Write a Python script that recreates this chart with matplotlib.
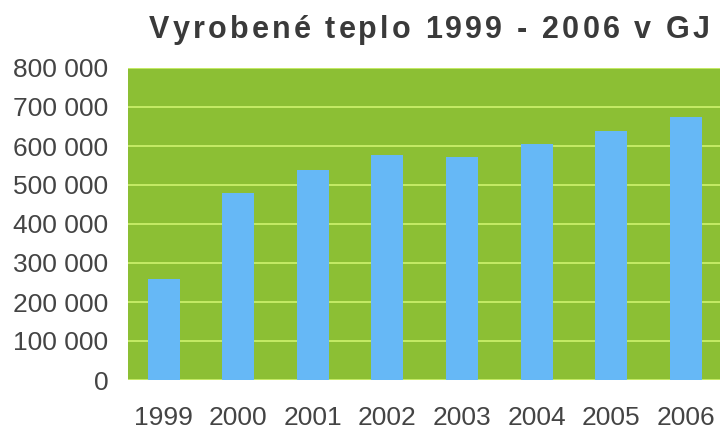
import numpy as np
import matplotlib.pyplot as plt
from matplotlib.ticker import FuncFormatter

years = ['1999', '2000', '2001', '2002', '2003', '2004', '2005', '2006']
heat_gj = [259000, 479000, 538000, 577000, 572000, 605000, 638000, 674000]
title = 'Vyrobené teplo 1999 - 2006 v GJ'

plt.rcParams['font.family'] = ['Liberation Sans', 'DejaVu Sans']

fig = plt.figure(figsize=(7.2, 4.3), dpi=100)
ax = fig.add_axes([128 / 720, 50 / 430, 592 / 720, 312 / 430])

x = np.arange(len(years))
ax.set_facecolor('#8cbf34')
ax.set_axisbelow(True)
ax.yaxis.grid(True, color='#c9ee6a', linewidth=1.3)
ax.bar(x, heat_gj, width=0.43, color='#66b8f6', zorder=2)

ax.set_xlim(-0.48, 7.46)
ax.set_ylim(0, 800000)
ax.set_yticks(np.arange(0, 800001, 100000))
ax.yaxis.set_major_formatter(FuncFormatter(lambda v, p: f'{int(v):,}'.replace(',', ' ')))
ax.set_xticks(x)
ax.set_xticklabels(years)
ax.tick_params(length=0, labelsize=19, colors='#444444')
ax.tick_params(axis='y', pad=14)
ax.tick_params(axis='x', pad=19)
for s in ax.spines.values():
    s.set_visible(False)

# title with extra letter spacing, placed char by char
kw = dict(fontsize=22, fontweight='bold', color='#3a3a3a', va='baseline', ha='left')
renderer = fig.canvas.get_renderer()


def char_width(ch):
    t = fig.text(0, 0, 'x' + ch + 'x', **kw)
    w = t.get_window_extent(renderer).width
    t.remove()
    t = fig.text(0, 0, 'xx', **kw)
    w -= t.get_window_extent(renderer).width
    t.remove()
    return w


widths = [char_width(c) for c in title]
x0, x1 = 149, 710
gap = (x1 - x0 - sum(widths)) / (len(title) - 1)
pos = x0
for ch, w in zip(title, widths):
    fig.text(pos / 720, 1 - 38 / 430, ch, **kw)
    pos += w + gap

fig.savefig('out.png', dpi=100)
